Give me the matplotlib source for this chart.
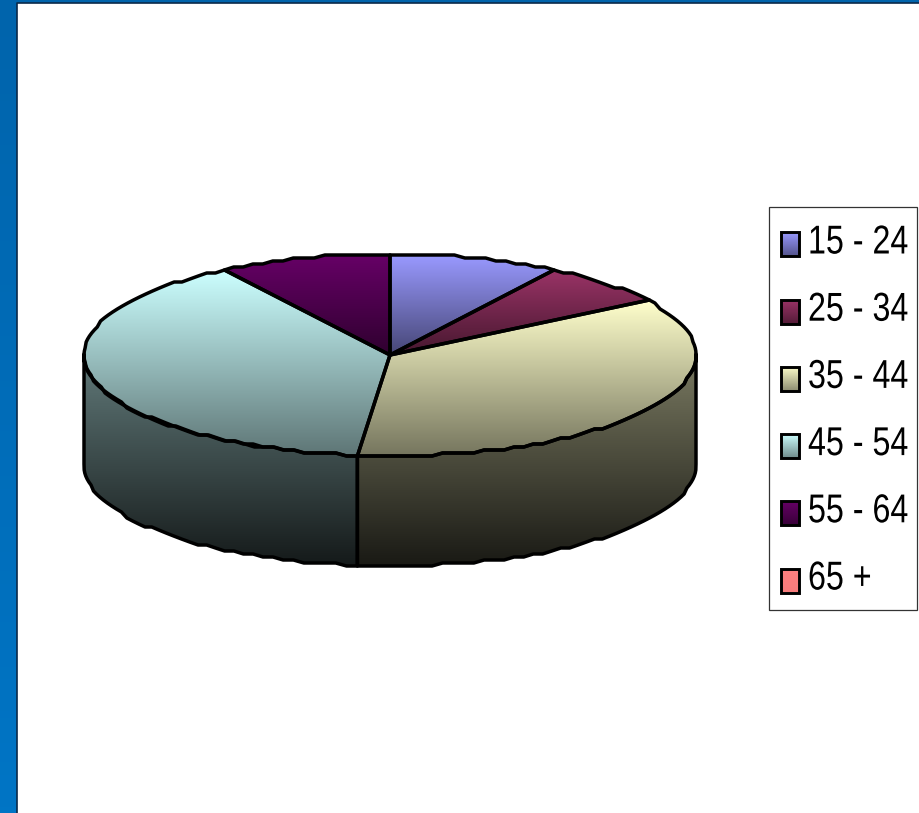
import numpy as np
import matplotlib
matplotlib.use('Agg')
import matplotlib.pyplot as plt
from matplotlib.patches import Polygon, Rectangle
from matplotlib.patheffects import AbstractPathEffect
from matplotlib.transforms import Affine2D
from matplotlib import rcParams

rcParams['font.family'] = ['Liberation Sans', 'DejaVu Sans']

# data
age_groups = ['15 - 24', '25 - 34', '35 - 44', '45 - 54', '55 - 64', '65 +']
shares = [9.0, 7.1, 35.6, 39.2, 9.1, 0.0]
slice_colors = ['#9999FF', '#993366', '#FFFFCC', '#CCFFFF', '#660066', '#FF8080']

# geometry in pixels
W, H = 920, 813
CX, CY = 390, 355
RX, RY = 306, 101
DEPTH = 110
GRID = 3

fig = plt.figure(figsize=(W / 100, H / 100), dpi=100)
ax = fig.add_axes([0, 0, 1, 1])
ax.axis('off')


class Squeeze(AbstractPathEffect):
    # the reference font is narrower than Arial: squeeze the glyphs sideways
    def __init__(self, x_from, x_to, factor):
        super().__init__()
        self.x_from, self.x_to, self.factor = x_from, x_to, factor

    def draw_path(self, renderer, gc, tpath, affine, rgbFace=None):
        squeeze = Affine2D().translate(-self.x_from, 0).scale(self.factor, 1).translate(self.x_to, 0)
        renderer.draw_path(gc, tpath, affine + squeeze, rgbFace)


def rim(a):
    # a in degrees clockwise from the top, y snapped to get the stepped outline
    r = np.radians(a)
    x = CX + RX * np.sin(r)
    y = CY - RY * np.cos(r)
    return x, np.round(y / GRID) * GRID


def arc(a0, a1):
    n = max(int(abs(a1 - a0) / 2), 1) + 1
    x, y = rim(np.linspace(a0, a1, n))
    return np.column_stack([x, y])


def gradient_fill(pts, color, top, bottom, y0=None, y1=None):
    rgb = np.array(matplotlib.colors.to_rgb(color))
    y0 = pts[:, 1].min() if y0 is None else y0
    y1 = pts[:, 1].max() if y1 is None else y1
    f = np.linspace(top, bottom, 128)[:, None, None]
    img = f * rgb[None, None, :]
    patch = Polygon(pts, closed=True, fc='none', ec='none')
    ax.add_patch(patch)
    im = ax.imshow(img, extent=[pts[:, 0].min(), pts[:, 0].max(), y1, y0],
                   aspect='auto', interpolation='bilinear', zorder=2)
    im.set_clip_path(patch)


# blue frame and white panel
frame = np.linspace(0, 1, 128)[:, None, None] * (np.array([0, 117, 197]) - np.array([0, 100, 172])) + np.array([0, 100, 172])
ax.imshow(frame / 255, extent=[0, W, H, 0], aspect='auto', zorder=0)
ax.add_patch(Rectangle((17, 3), W, H, fc='white', ec='none', zorder=1))
ax.plot([17, 17, W], [H, 3, 3], color='#0A2A4A', lw=1.2, zorder=1)

edges = 360 * np.cumsum([0] + shares) / sum(shares)

# side wall, only the front half of the cylinder shows
for i, color in enumerate(slice_colors):
    a0, a1 = max(edges[i], 90), min(edges[i + 1], 270)
    if a1 <= a0:
        continue
    top = arc(a0, a1)
    pts = np.vstack([top, (top + [0, DEPTH])[::-1]])
    gradient_fill(pts, color, 0.48, 0.1, y0=CY, y1=CY + RY + DEPTH)
    ax.add_patch(Polygon(pts, closed=True, fc='none', ec='black', lw=2.5, joinstyle='round', zorder=3))

# top face
for i, color in enumerate(slice_colors):
    if shares[i] == 0:
        continue
    pts = np.vstack([[CX, CY], arc(edges[i], edges[i + 1])])
    gradient_fill(pts, color, 1.0, 0.46)
    ax.add_patch(Polygon(pts, closed=True, fc='none', ec='black', lw=2.5, joinstyle='round', zorder=4))

# legend
ax.add_patch(Rectangle((769, 207), 148, 403, fc='white', ec='#333333', lw=0.9, zorder=2))
for i, (label, color) in enumerate(zip(age_groups, slice_colors)):
    yc = 244.5 + i * 67.2
    box = np.array([[781, yc - 12], [799, yc - 12], [799, yc + 12], [781, yc + 12]], dtype=float)
    if shares[i] == 0:
        gradient_fill(box, color, 1.0, 0.97)
    else:
        gradient_fill(box, color, 1.0, 0.55)
    ax.add_patch(Polygon(box, closed=True, fc='none', ec='black', lw=2.1, zorder=5))
    t = ax.text(795, yc - 2, label, fontsize=29, color='black', ha='left', va='center', zorder=5)
    t.set_path_effects([Squeeze(795, 808, 0.8)])

ax.set_xlim(0, W)
ax.set_ylim(H, 0)
fig.savefig('out.png', dpi=100)
